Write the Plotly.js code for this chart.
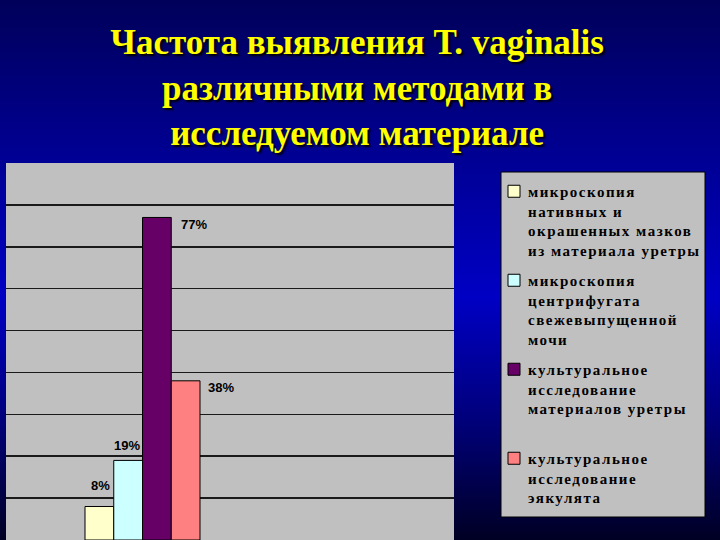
<!DOCTYPE html>
<html>
<head>
<meta charset="utf-8">
<script src="https://cdn.plot.ly/plotly-3.0.1.min.js"></script>
<style>
  html, body { margin: 0; padding: 0; }
  body {
    width: 720px; height: 540px; overflow: hidden;
    background: linear-gradient(to bottom, #00005a 0%, #00008c 25%, #0000c4 55%, #00007a 78%, #000024 100%);
  }
  #chart { width: 720px; height: 540px; }
  /* legend text in the slide is widely tracked */
  text.legendtext { letter-spacing: 1.5px; }
  g.legendpoints { transform: translateX(6px); }
</style>
</head>
<body>
<div id="chart"></div>
<script>
var category = ["T. vaginalis"];

var methods = [
  "микроскопия<br>нативных и<br>окрашенных мазков<br>из материала уретры",
  "микроскопия<br>центрифугата<br>свежевыпущенной<br>мочи",
  "культуральное<br>исследование<br>материалов уретры<br>&nbsp;",
  "культуральное<br>исследование<br>эякулята<br>&nbsp;"
];

var values = [8, 19, 77, 38];

var barColors = ["#FFFFCC", "#CCFFFF", "#660066", "#FF8080"];

// label offsets (px) relative to the top of each bar
var labelDx = [-41.7, -15.5, 51.3, 78.3];
var labelDy = [20.5, 15, -7, -6.3];

var data = methods.map(function (name, i) {
  return {
    x: category,
    y: [values[i]],
    name: name,
    legendgroup: "g" + i,
    type: "bar",
    marker: { color: barColors[i], line: { color: "#000000", width: 1 } },
    hoverinfo: "y"
  };
});

var annotations = values.map(function (v, i) {
  return {
    x: category[0],
    y: v,
    xref: "x",
    yref: "y",
    text: v + "%",
    showarrow: false,
    xanchor: "center",
    yanchor: "middle",
    xshift: labelDx[i],
    yshift: labelDy[i],
    font: { family: "Liberation Sans, Arial, sans-serif", size: 13, color: "#000000", weight: "bold" }
  };
});

// plot area spans x 6..454 px, y 163..540 px; legend box 501..705 x 172..517
var pw = 448, ph = 377;
var legendBox = {
  type: "rect",
  xref: "paper", yref: "paper",
  x0: (501 - 6) / pw, x1: (705 - 6) / pw,
  y0: (540 - 517) / ph, y1: (540 - 172) / ph,
  fillcolor: "#C0C0C0",
  line: { color: "#000000", width: 1 },
  layer: "above"
};

var layout = {
  width: 720,
  height: 540,
  paper_bgcolor: "rgba(0,0,0,0)",
  plot_bgcolor: "#C0C0C0",
  margin: { l: 6, r: 266, t: 163, b: 0, pad: 0 },
  title: {
    text: "Частота выявления T. vaginalis<br>различными методами в<br>исследуемом материале",
    font: { family: "Liberation Serif, Times New Roman, serif", size: 35, color: "#FFFF00", weight: "bold",
            shadow: "2px 2px 2px #000000" },
    x: 0.496,
    xanchor: "center",
    y: 0.9,
    yanchor: "top"
  },
  barmode: "group",
  bargap: 0.2,
  bargroupgap: 0,
  xaxis: {
    type: "category",
    range: [-0.9496, 2.167],
    showticklabels: false,
    showgrid: false,
    zeroline: false,
    ticks: "",
    fixedrange: true
  },
  yaxis: {
    range: [0, 90],
    dtick: 10,
    showticklabels: false,
    showgrid: true,
    gridcolor: "#1a1a1a",
    gridwidth: 1.5,
    zeroline: false,
    ticks: "",
    fixedrange: true
  },
  shapes: [legendBox],
  showlegend: true,
  legend: {
    x: (488 - 6) / pw,
    xanchor: "left",
    y: (540 - 175) / ph,
    yanchor: "top",
    bgcolor: "rgba(0,0,0,0)",
    borderwidth: 0,
    traceorder: "grouped",
    valign: "top",
    tracegroupgap: 8,
    font: { family: "Liberation Serif, Times New Roman, serif", size: 15, color: "#000000", weight: "bold" }
  },
  annotations: annotations
};

var config = { responsive: false, displayModeBar: false, staticPlot: true };

Plotly.newPlot("chart", data, layout, config);
</script>
</body>
</html>
